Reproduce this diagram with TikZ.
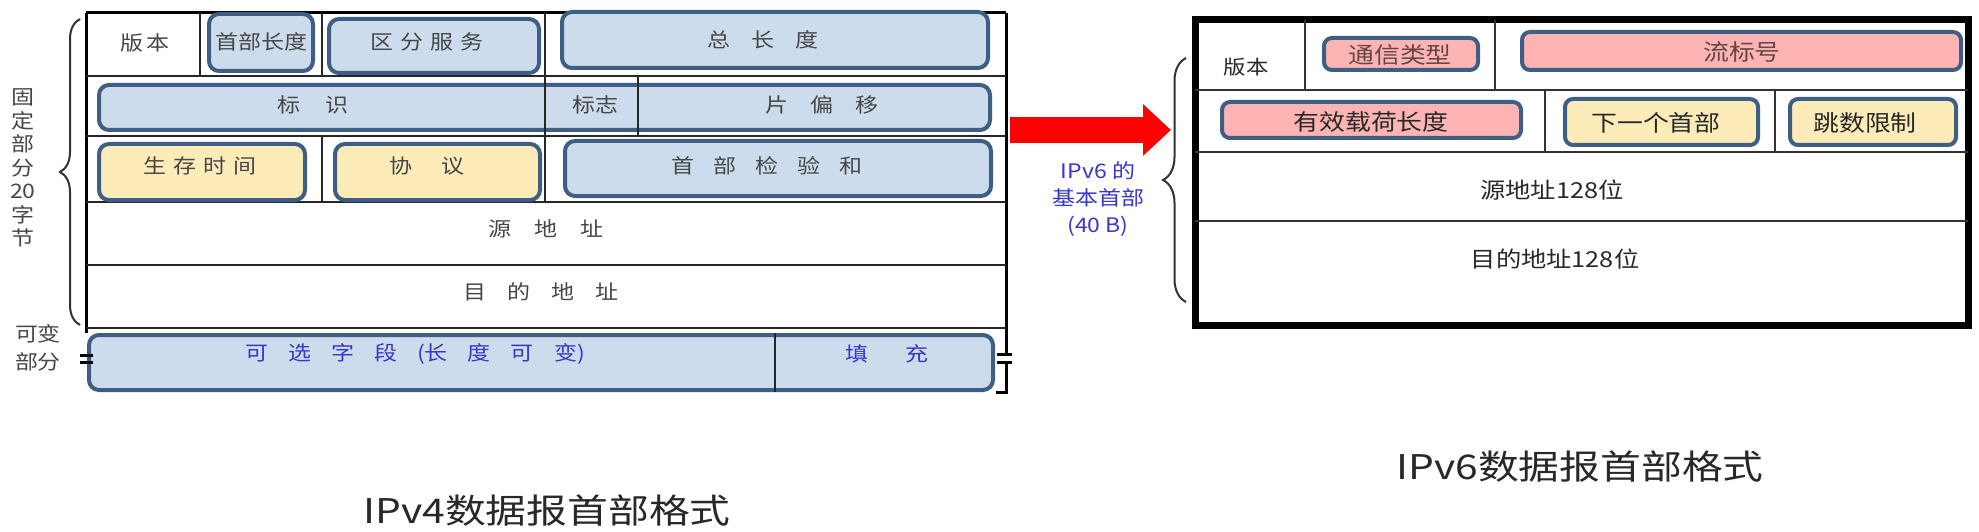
\documentclass[tikz,border=0pt]{standalone}
\usepackage{fontspec}
\setmainfont{Noto Sans CJK SC}[FakeStretch=1.15]
\newfontfamily\titlefont{Noto Sans CJK SC}[FakeStretch=1.2]
\usetikzlibrary{decorations.pathreplacing,arrows.meta}
\definecolor{boxblue}{RGB}{205,220,237}
\definecolor{boxedge}{RGB}{62,94,132}
\definecolor{boxyellow}{RGB}{253,236,184}
\definecolor{boxpink}{RGB}{255,180,180}
\definecolor{txtgray}{RGB}{70,70,70}
\definecolor{txtdark}{RGB}{40,40,40}
\definecolor{txtblue}{RGB}{55,55,200}
\definecolor{txtbrown}{RGB}{100,70,70}
\newcommand{\chgap}[1]{\hspace{#1pt}}
\tikzset{
  outerfour/.style={line width=3pt, black},
  gridfour/.style={line width=2pt, black!85},
  outersix/.style={line width=7pt, black},
  gridsix/.style={line width=2.5pt, black!80},
  fieldbox/.style={draw=boxedge, line width=4pt, rounded corners=10pt, inner sep=0pt},
  bluebox/.style={fieldbox, fill=boxblue},
  yellowbox/.style={fieldbox, fill=boxyellow},
  pinkbox/.style={fieldbox, fill=boxpink, rounded corners=8pt},
  yellowsix/.style={fieldbox, fill=boxyellow, rounded corners=8pt},
  tfour/.style={text=txtgray, font=\fontsize{20}{24}\selectfont, inner sep=0pt},
  tblue/.style={text=txtblue, font=\fontsize{20}{24}\selectfont, inner sep=0pt},
  tsix/.style={text=txtdark, font=\fontsize{22.5}{26}\selectfont, inner sep=0pt},
  tsixpink/.style={text=txtbrown, font=\fontsize{22.5}{26}\selectfont, inner sep=0pt},
  bracestyle/.style={decorate, line width=2pt, black!80},
  bigarrow/.style={line width=26pt, color={rgb,255:red,255;green,0;blue,0}, -{Triangle[length=28pt,width=50pt]}},
  titletext/.style={text=txtdark, font=\titlefont\fontsize{34}{40}\selectfont, inner sep=0pt}
}
\begin{document}
\begin{tikzpicture}[x=1pt,y=-1pt]
\useasboundingbox[fill=white] (0,0) rectangle (1979,532);

% ================= IPv4 table =================
\draw[outerfour] (86,13) -- (1006,13);
\draw[outerfour] (86,13) -- (86,333);
\draw[outerfour] (1006,13) -- (1006,354);
\draw[outerfour] (1006,362) -- (1006,392) -- (996,392);
\foreach \yy in {76,136,202,265,328} \draw[gridfour] (86,\yy) -- (1006,\yy);
\draw[gridfour] (200,13) -- (200,76);
\draw[gridfour] (322,13) -- (322,76);
\draw[gridfour] (545,13) -- (545,76);
\draw[gridfour] (322,136) -- (322,202);
\draw[gridfour] (545,136) -- (545,202);

% boxes
\node[bluebox, minimum width=104pt, minimum height=57pt] (hl) at (261,42.5) {};
\node[bluebox, minimum width=210pt, minimum height=54pt] (ds) at (434,46) {};
\node[bluebox, minimum width=426pt, minimum height=56pt] (tl) at (775,40) {};
\node[bluebox, minimum width=891pt, minimum height=45pt] (idrow) at (544.5,107.5) {};
\node[yellowbox, minimum width=206pt, minimum height=56pt] (ttl) at (202,172) {};
\node[yellowbox, minimum width=205pt, minimum height=56pt] (proto) at (437.5,172) {};
\node[bluebox, minimum width=426pt, minimum height=55pt] (cks) at (778,168.5) {};
\node[bluebox, minimum width=904pt, minimum height=55pt] (opt) at (541,362.5) {};

% dividers drawn over boxes
\draw[gridfour] (545,76) -- (545,136);
\draw[gridfour] (638,76) -- (638,136);
\draw[gridfour] (775,333) -- (775,392);

% break marks
\draw[line width=3pt] (80,355) -- (93,355);
\draw[line width=3pt] (80,362) -- (93,362);
\draw[line width=3pt] (997,354) -- (1012,354);
\draw[line width=3pt] (997,362) -- (1012,362);

% texts
\node[tfour] (tver) at (145,43) {版\chgap{4}本};
\node[tfour] (thl) at (261,42) {首部长度};
\node[tfour] (tds) at (427,42) {区\chgap{7}分\chgap{7}服\chgap{7}务};
\node[tfour] (ttl4) at (763,40) {总\chgap{21}长\chgap{21}度};
\node[tfour] (tid) at (313,105) {标\chgap{25}识};
\node[tfour] (tflag) at (595,105) {标志};
\node[tfour] (tfrag) at (822,105) {片\chgap{22}偏\chgap{22}移};
\node[tfour] (tttl) at (200,166) {生\chgap{7}存\chgap{7}时\chgap{7}间};
\node[tfour] (tproto) at (427,166) {协\chgap{29}议};
\node[tfour] (tcks) at (767,166) {首\chgap{19}部\chgap{19}检\chgap{19}验\chgap{19}和};
\node[tfour] (tsrc4) at (546,229) {源\chgap{23}地\chgap{23}址};
\node[tfour] (tdst4) at (541,292) {目\chgap{21}的\chgap{21}地\chgap{21}址};
\node[tblue] (topt) at (415,354) {可\chgap{20}选\chgap{20}字\chgap{20}段\chgap{20}(长\chgap{20}度\chgap{20}可\chgap{20}变)};
\node[tblue] (tpad) at (887,354) {填\chgap{37}充};

% left brace and labels
\coordinate (lbB) at (80,325);
\coordinate (lbT) at (80,19);
\draw[bracestyle, decoration={brace, amplitude=20pt}] (lbB) -- (lbT);
\node[tfour, align=center, font=\fontsize{20}{23.5}\selectfont] (fixed) at (23,168) {固\\定\\部\\分\\20\\字\\节};
\node[tfour, align=center, font=\fontsize{20}{28}\selectfont] (var) at (38,348) {可变\\部分};

% ================= arrow and label =================
\coordinate (arrS) at (1010,130);
\coordinate (arrE) at (1171,130);
\draw[bigarrow] (arrS) -- (arrE);
\node[tblue, align=center, font=\fontsize{20}{27}\selectfont] (v6lbl) at (1098,199) {IPv6 的\\基本首部\\(40 B)};

% right brace
\coordinate (rbB) at (1186,302);
\coordinate (rbT) at (1186,58);
\draw[bracestyle, decoration={brace, amplitude=23pt}] (rbB) -- (rbT);

% ================= IPv6 table =================
\draw[outersix] (1195,20) rectangle (1968,325);
\draw[gridsix] (1195,90) -- (1968,90);
\draw[gridsix] (1195,152) -- (1968,152);
\draw[gridsix] (1195,221) -- (1968,221);
\draw[gridsix] (1305,20) -- (1305,90);
\draw[gridsix] (1495,20) -- (1495,90);
\draw[gridsix] (1545,90) -- (1545,152);
\draw[gridsix] (1775,90) -- (1775,152);

\node[pinkbox, minimum width=154pt, minimum height=32pt] (tc) at (1401,54) {};
\node[pinkbox, minimum width=439pt, minimum height=38pt] (fl) at (1741.5,51) {};
\node[pinkbox, minimum width=299pt, minimum height=36pt] (pl) at (1371.5,120) {};
\node[yellowsix, minimum width=193pt, minimum height=46pt] (nh) at (1661.5,122) {};
\node[yellowsix, minimum width=166pt, minimum height=46pt] (hop) at (1873,122) {};

\node[tsix, font=\fontsize{19.5}{24}\selectfont] (tver6) at (1246,67) {版本};
\node[tsixpink] (ttc) at (1400,55) {通信类型};
\node[tsixpink] (tfl) at (1742,52) {流标号};
\node[tsix] (tpl) at (1371,122) {有效载荷长度};
\node[tsix] (tnh) at (1656,123) {下一个首部};
\node[tsix] (thop) at (1865,123) {跳数限制};
\node[tsix, font=\fontsize{22}{26}\selectfont] (tsrc6) at (1552,190) {源地址128位};
\node[tsix, font=\fontsize{22}{26}\selectfont] (tdst6) at (1555,259) {目的地址128位};

% ================= titles =================
\node[titletext] (title4) at (547,511) {IPv4数据报首部格式};
\node[titletext] (title6) at (1580,467) {IPv6数据报首部格式};
\end{tikzpicture}
\end{document}
